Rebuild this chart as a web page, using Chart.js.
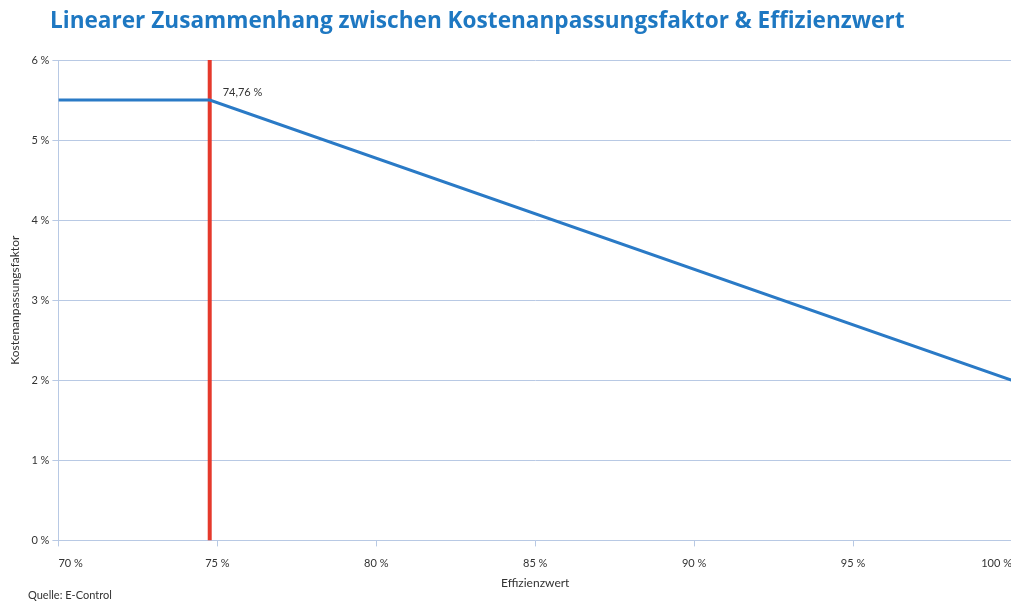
<!DOCTYPE html>
<html>
<head>
<meta charset="utf-8">
<script src="https://cdn.jsdelivr.net/npm/chart.js@4"></script>
<style>
  html, body { margin: 0; padding: 0; background: #fff; overflow: hidden; }
  #wrap { width: 1022px; height: 604px; position: relative; }
</style>
</head>
<body>
<div id="wrap"><canvas id="chart"></canvas></div>
<script>
// Werte
const effizienz = [70, 74.76, 100];
const faktor = [5.5, 5.5, 2];
const schwelle = 74.76;
const schwelleY = [0, 6];
const xTicks = [70, 75, 80, 85, 90, 95, 100];
const yTicks = [0, 1, 2, 3, 4, 5, 6];

const titel = 'Linearer Zusammenhang zwischen Kostenanpassungsfaktor & Effizienzwert';
const quelle = 'Quelle: E-Control';

const blau = '#2a7ac6';
const rot = '#e5392c';
const gitter = '#b8c9e4';
const textFarbe = '#333';

const extras = {
    id: 'extras',
    afterDatasetsDraw(chart) {
        const ctx = chart.ctx;
        const xs = chart.scales.x, ys = chart.scales.y;
        ctx.save();
        ctx.fillStyle = '#1e78c2';
        ctx.font = 'bold 22.6px "Open Sans"';
        ctx.textBaseline = 'alphabetic';
        ctx.fillText(titel, 50, 28);
        ctx.fillStyle = textFarbe;
        ctx.font = '11px Lato';
        ctx.textBaseline = 'middle';
        ctx.fillText('74,76 %', xs.getPixelForValue(schwelle) + 13, ys.getPixelForValue(5.5) - 8);
        ctx.fillText(quelle, 28, 595);
        ctx.restore();
    }
};

document.addEventListener("DOMContentLoaded", function() {
    const ctx = document.getElementById('chart').getContext('2d');
    new Chart(ctx, {
        type: 'line',
        data: {
            datasets: [{
                data: schwelleY.map(y => ({x: schwelle, y: y})),
                borderColor: rot,
                borderWidth: 4,
                pointRadius: 0,
                order: 2
            }, {
                data: effizienz.map((x, i) => ({x: x, y: faktor[i]})),
                borderColor: blau,
                borderWidth: 3,
                pointRadius: 0,
                order: 1
            }]
        },
        options: {
            responsive: true,
            maintainAspectRatio: false,
            animation: false,
            layout: { padding: { left: 8, right: 0, top: 60, bottom: 14 } },
            plugins: {
                legend: { display: false },
                tooltip: { enabled: false },
                title: { display: false }
            },
            scales: {
                x: {
                    type: 'linear',
                    min: xTicks[0],
                    max: xTicks[xTicks.length - 1],
                    afterBuildTicks: s => { s.ticks = xTicks.map(v => ({value: v})); },
                    grid: { drawOnChartArea: false, color: gitter, tickLength: 6 },
                    border: { color: gitter },
                    ticks: {
                        align: 'inner',
                        color: textFarbe,
                        font: { family: 'Lato', size: 11 },
                        padding: 10,
                        maxRotation: 0,
                        callback: v => v + ' %'
                    },
                    title: {
                        display: true,
                        text: 'Effizienzwert',
                        color: textFarbe,
                        font: { family: 'Lato', size: 12 },
                        padding: { top: -4, bottom: 0 }
                    }
                },
                y: {
                    min: yTicks[0],
                    max: yTicks[yTicks.length - 1],
                    afterBuildTicks: s => { s.ticks = yTicks.map(v => ({value: v})); },
                    grid: { color: gitter, tickLength: 6 },
                    border: { color: gitter },
                    ticks: {
                        color: textFarbe,
                        font: { family: 'Lato', size: 11 },
                        padding: 3,
                        callback: v => v + ' %'
                    },
                    title: {
                        display: true,
                        text: 'Kostenanpassungsfaktor',
                        color: textFarbe,
                        font: { family: 'Lato', size: 12 },
                        padding: { top: 0, bottom: 6 }
                    }
                }
            }
        },
        plugins: [extras]
    });
});
</script>
</body>
</html>
